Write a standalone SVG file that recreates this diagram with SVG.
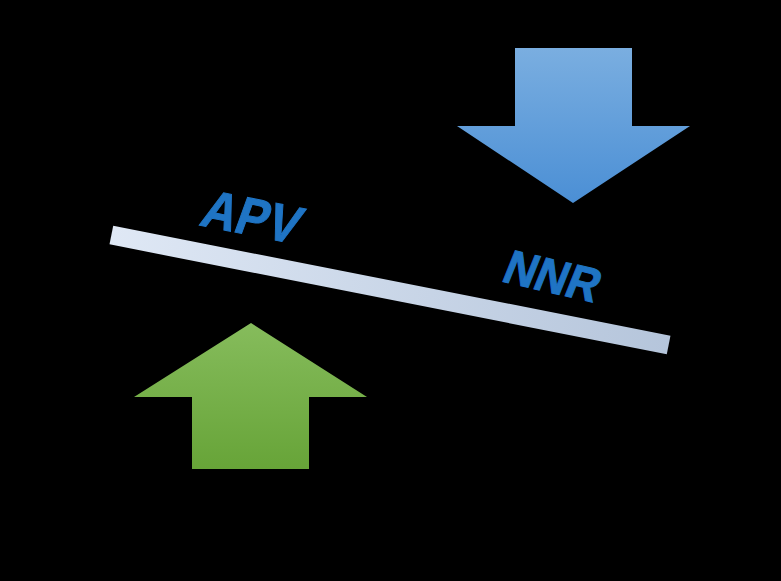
<svg xmlns="http://www.w3.org/2000/svg" width="781" height="581" viewBox="0 0 781 581">
<defs>
<linearGradient id="gBlue" x1="0" y1="0" x2="0" y2="1"><stop offset="0" stop-color="#7aaee0"/><stop offset="1" stop-color="#4b8fd5"/></linearGradient>
<linearGradient id="gGreen" x1="0" y1="0" x2="0" y2="1"><stop offset="0" stop-color="#86bc5c"/><stop offset="1" stop-color="#67a438"/></linearGradient>
<linearGradient id="gBeam" x1="0" y1="0" x2="1" y2="0"><stop offset="0" stop-color="#dfe8f5"/><stop offset="1" stop-color="#b5c5db"/></linearGradient>
<style>.lbl{font-family:"Liberation Sans",Arial,sans-serif;font-weight:bold;fill:#1f74c4;stroke:#1f74c4;stroke-width:1}</style>
</defs>
<rect width="781" height="581" fill="#000"/>
<g id="beam"><rect x="106" y="280.5" width="568" height="19" fill="url(#gBeam)" transform="rotate(11.16 390 290)"/></g>
<g id="down-arrow"><polygon points="515,48 632,48 632,126 690,126 573,203 457,126 515,126" fill="url(#gBlue)"/></g>
<g id="up-arrow"><polygon points="251,323 367,397 309,397 309,469 192,469 192,397 134,397" fill="url(#gGreen)"/></g>
<g id="apv"><text class="lbl" font-size="53" transform="translate(198 225) rotate(11) skewX(-9) scale(0.9 1)">APV</text></g>
<g id="nnr"><text class="lbl" font-size="48" transform="translate(500 281) rotate(13) skewX(-9) scale(0.92 1)">NNR</text></g>
<g id="connectors"/>
</svg>
